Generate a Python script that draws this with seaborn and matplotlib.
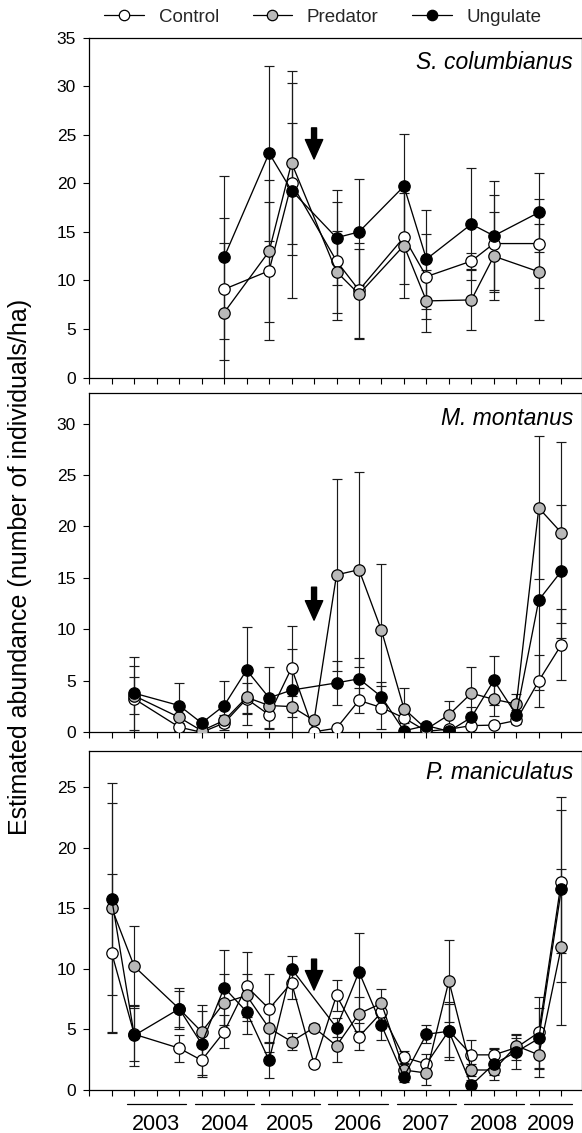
import numpy as np
import pandas as pd
import matplotlib
matplotlib.use("Agg")
import matplotlib.pyplot as plt
import matplotlib.transforms as mtransforms
from matplotlib.lines import Line2D
import seaborn as sns

nan = np.nan

# ---------------- data ----------------
treatments = ["Control", "Predator", "Ungulate"]
species = ["S. columbianus", "M. montanus", "P. maniculatus"]
n_ticks = 22  # trapping sessions (x tick positions 0..21)

# S. columbianus
sc_sessions = [6, 8, 9, 11, 12, 14, 15, 17, 18, 20]
sc_control = [9.1, 11.0, 20.0, 12.0, 9.0, 14.45, 10.4, 12.0, 13.8, 13.8]
sc_control_se = [7.3, 7.1, 6.2, 6.1, 4.9, 4.85, 4.4, 0.8, 5.0, 4.6]
sc_predator = [6.7, 13.0, 22.1, 10.9, 8.6, 13.6, 7.9, 8.0, 12.5, 10.9]
sc_predator_se = [7.2, 7.3, 9.5, 4.2, 4.6, 5.4, 3.2, 3.05, 4.55, 4.95]
sc_ungulate = [12.4, 23.1, 19.25, 14.4, 15.0, 19.7, 12.2, 15.8, 14.6, 17.0]
sc_ungulate_se = [8.4, 9.0, 11.1, 4.9, 5.45, 5.35, 5.1, 5.75, 5.6, 4.1]

# M. montanus
mm_sessions = [2, 4, 5, 6, 7, 8, 9, 10, 11, 12, 13, 14, 15, 16, 17, 18, 19, 20, 21]
mm_control = [3.25, 0.5, 0.0, 0.9, 3.25, 1.7, 6.25, 0.05, 0.4, 3.1, 2.4, 1.4, 0.1, 0.3,
              0.65, 0.7, 1.15, 5.0, 8.5]
mm_control_se = [3.2, 0.4, 0.2, 0.4, 1.5, 1.3, 1.85, 0.1, 0.3, 1.25, 2.1, 0.5, 0.1, 0.2,
                 0.3, 0.3, 0.3, 2.5, 3.45]
mm_predator = [3.55, 1.45, 0.15, 1.15, 3.4, 2.6, 2.5, 1.15, 15.3, 15.8, 9.9, 2.3, 0.3, 1.7,
               3.8, 3.2, 2.75, 21.8, 19.4]
mm_predator_se = [1.8, 0.8, 0.2, 0.5, 2.7, 0.8, 1.0, 0.3, 9.3, 9.45, 6.45, 2.0, 0.3, 1.3,
                  2.55, 1.6, 1.0, 6.95, 8.8]
mm_ungulate = [3.8, 2.6, 0.9, 2.6, 6.05, 3.35, 4.1, nan, 4.8, 5.2, 3.45, 0.15, 0.65, 0.1,
               1.45, 5.05, 1.7, 12.85, 15.65]
mm_ungulate_se = [3.55, 2.2, 0.4, 2.35, 4.2, 3.0, 6.25, nan, 2.1, 2.0, 1.45, 0.1, 0.2, 0.1,
                  1.0, 2.35, 0.5, 8.75, 6.45]

# P. maniculatus
pm_sessions = [1, 2, 4, 5, 6, 7, 8, 9, 10, 11, 12, 13, 14, 15, 16, 17, 18, 19, 20, 21]
pm_control = [11.3, 4.6, 3.45, 2.45, 4.8, 8.55, 6.7, 8.85, 2.15, 7.8, 4.4, 6.4, 2.7, 2.15,
              4.9, 2.9, 2.9, 3.5, 4.75, 17.2]
pm_control_se = [6.5, 2.2, 1.1, 1.2, 1.35, 2.85, 2.85, 1.3, 0.2, 1.25, 1.1, 0.8, 0.5, 0.8,
                 2.2, 1.2, 0.5, 1.0, 2.9, 5.9]
pm_predator = [15.0, 10.2, 6.7, 4.8, 7.2, 7.8, 5.1, 4.0, 5.15, 3.65, 6.3, 7.15, 1.65, 1.4,
               9.0, 1.65, 1.65, 3.65, 2.9, 11.8]
pm_predator_se = [10.3, 3.3, 1.5, 2.2, 2.35, 1.8, 2.0, 0.7, 0.3, 1.3, 1.4, 1.15, 0.5, 1.0,
                  3.4, 0.5, 0.4, 0.6, 1.8, 6.4]
pm_ungulate = [15.75, 4.5, 6.7, 3.8, 8.45, 6.45, 2.45, 10.0, nan, 5.15, 9.75, 5.35, 1.1, 4.6,
               4.85, 0.4, 2.15, 3.15, 4.25, 16.55]
pm_ungulate_se = [7.9, 2.5, 1.7, 2.75, 3.1, 1.8, 1.5, 1.05, nan, 0.8, 3.2, 1.25, 0.4, 0.75,
                  2.4, 0.4, 1.3, 1.45, 2.5, 7.6]

# axis limits / ticks per panel
y_max = [35, 33, 28]
y_tick_max = [35, 30, 25]

# treatment-onset arrow (session, top, bottom) per panel
arrow_session = 10
arrow_top = [25.7, 14.1, 10.8]
arrow_bottom = [22.5, 10.9, 8.25]

# year labels below bottom panel
years = ["2003", "2004", "2005", "2006", "2007", "2008", "2009"]
year_start = [1.66, 4.70, 7.62, 10.64, 13.67, 16.68, 19.62]
year_end = [4.30, 7.34, 10.27, 13.29, 16.31, 19.32, 21.46]

# ---------------- tidy table ----------------
rows = []
panel_data = {
    "S. columbianus": (sc_sessions, [(sc_control, sc_control_se), (sc_predator, sc_predator_se),
                                     (sc_ungulate, sc_ungulate_se)]),
    "M. montanus": (mm_sessions, [(mm_control, mm_control_se), (mm_predator, mm_predator_se),
                                  (mm_ungulate, mm_ungulate_se)]),
    "P. maniculatus": (pm_sessions, [(pm_control, pm_control_se), (pm_predator, pm_predator_se),
                                     (pm_ungulate, pm_ungulate_se)]),
}
for sp, (sess, series) in panel_data.items():
    for tr, (vals, ses) in zip(treatments, series):
        for s, v, e in zip(sess, vals, ses):
            rows.append(dict(species=sp, treatment=tr, session=s, value=v, se=e))
df = pd.DataFrame(rows)

# ---------------- styling ----------------
sns.set_theme(style="ticks")
plt.rcParams["font.family"] = ["Liberation Sans", "DejaVu Sans"]
plt.rcParams["axes.linewidth"] = 0.9
plt.rcParams["xtick.major.width"] = 0.8
plt.rcParams["ytick.major.width"] = 0.8

faces = {"Control": "white", "Predator": "#b9b9b9", "Ungulate": "black"}

W, H = 582, 1133
fig = plt.figure(figsize=(W / 100, H / 100), dpi=100)

left = 89.3 / W
width = (581.5 - 89.3) / W
panel_px = [(37.5, 377.7), (392.7, 732.3), (750.7, 1090.0)]
axes = []
for top, bot in panel_px:
    axes.append(fig.add_axes([left, 1 - bot / H, width, (bot - top) / H]))

label_y = [0.906, 0.905, 0.918]

for i, (ax, sp) in enumerate(zip(axes, species)):
    sub = df[df.species == sp]
    for tr in treatments:
        d = sub[sub.treatment == tr].dropna(subset=["value"])
        ax.errorbar(d["session"], d["value"], yerr=d["se"], fmt="none", ecolor="#1a1a1a",
                    elinewidth=0.85, capsize=3.6, capthick=0.85, zorder=2)
    for j, tr in enumerate(treatments):
        d = sub[sub.treatment == tr].dropna(subset=["value"])
        sns.lineplot(data=d, x="session", y="value", ax=ax, color="black", linewidth=0.95,
                     marker="o", markersize=8.2, markerfacecolor=faces[tr],
                     markeredgecolor="black", markeredgewidth=0.9, errorbar=None,
                     legend=False, sort=True, zorder=3 + j)
    ax.set_xlim(0, 21.9)
    ax.set_ylim(0, y_max[i])
    ax.set_xticks(range(n_ticks))
    ax.set_xticklabels([])
    ax.set_yticks(range(0, y_tick_max[i] + 1, 5))
    ax.tick_params(axis="both", direction="out", length=4, colors="black", labelsize=12.5,
                   pad=5)
    ax.tick_params(axis="y", length=4.5)
    ax.set_xlabel("")
    ax.set_ylabel("")
    for s in ax.spines.values():
        s.set_visible(True)
        s.set_color("black")
    ax.text(0.983, label_y[i], sp, transform=ax.transAxes, ha="right", va="baseline",
            fontsize=16.5, style="italic", color="black")
    ax.annotate("", xy=(arrow_session, arrow_bottom[i]), xytext=(arrow_session, arrow_top[i]),
                arrowprops=dict(arrowstyle="simple,head_length=1.4,head_width=1.25,tail_width=0.36",
                                color="black", shrinkA=0, shrinkB=0, mutation_scale=10),
                zorder=6)

# year labels
axb = axes[-1]
trans = mtransforms.blended_transform_factory(axb.transData, axb.transAxes)
for yr, s, e in zip(years, year_start, year_end):
    axb.plot([s, e], [-0.042, -0.042], transform=trans, color="black", lw=0.9, clip_on=False)
    axb.text((s + e) / 2, -0.118, yr, transform=trans, ha="center", va="baseline",
             fontsize=15.5, color="black")

# y label
fig.text(0.034, 0.5, "Estimated abundance (number of individuals/ha)", rotation=90,
         ha="center", va="center", fontsize=18, color="black")

# legend
handles = [Line2D([], [], color="black", lw=0.9, marker="o", markersize=7.5,
                  markerfacecolor=faces[t], markeredgecolor="black", markeredgewidth=0.9)
           for t in treatments]
fig.legend(handles, treatments, loc="center", bbox_to_anchor=(0.555, 1 - 17.3 / H), ncol=3,
           frameon=False, fontsize=13.5, handlelength=2.1, handletextpad=0.8,
           columnspacing=1.8, borderaxespad=0, borderpad=0)

fig.savefig("out.png", dpi=100)
